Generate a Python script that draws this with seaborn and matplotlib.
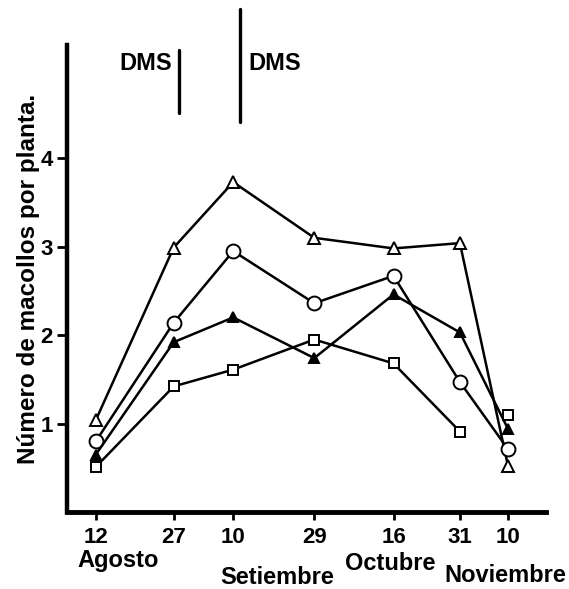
import matplotlib
matplotlib.use("Agg")
import matplotlib.pyplot as plt
import seaborn as sns
import pandas as pd
import numpy as np

# Sampling dates as days since 12 Aug
days = [0, 17, 30, 47.7, 65, 79.5, 90]
day_labels = ["12", "27", "10", "29", "16", "31", "10"]
months = ["Agosto", "Setiembre", "Octubre", "Noviembre"]

tri_open = [1.04, 2.99, 3.73, 3.10, 2.98, 3.04, 0.52]
circle_open = [0.80, 2.14, 2.95, 2.36, 2.67, 1.47, 0.71]
tri_filled = [0.65, 1.92, 2.20, 1.74, 2.46, 2.03, 0.94]
square_open = [0.51, 1.42, 1.61, 1.95, 1.68, 0.91, 1.10]
square_connected = [True, True, True, True, True, True, False]

dms_days = [18.1, 31.5]
dms_spans = [(4.51, 5.22), (4.41, 5.69)]

sns.set_theme(style="white")
plt.rcParams["font.family"] = ["Liberation Sans", "DejaVu Sans"]
plt.rcParams["font.weight"] = "bold"
plt.rcParams["text.color"] = "black"
plt.rcParams["axes.labelcolor"] = "black"
plt.rcParams["xtick.color"] = "black"
plt.rcParams["ytick.color"] = "black"

W, H = 569, 589
fig = plt.figure(figsize=(W / 100, H / 100), dpi=100)
ax = fig.add_axes([67 / W, 1 - 512 / H, (546 - 67) / W, (512 - 45) / H])

lw = 1.8
series = [
    (tri_open, "^", "white", 9),
    (circle_open, "o", "white", 10),
    (tri_filled, "^", "black", 7),
]
for vals, mk, fc, ms in series:
    df = pd.DataFrame({"day": days, "val": vals})
    sns.lineplot(data=df, x="day", y="val", ax=ax, color="black", lw=lw,
                 marker=mk, markersize=ms, markerfacecolor=fc,
                 markeredgecolor="black", markeredgewidth=1.4, zorder=3)

dsq = pd.DataFrame({"day": days, "val": square_open, "conn": square_connected})
sns.lineplot(data=dsq[dsq["conn"]], x="day", y="val", ax=ax, color="black", lw=lw, zorder=3)
ax.plot(dsq["day"], dsq["val"], ls="none", marker="s", markersize=7,
        markerfacecolor="white", markeredgecolor="black", markeredgewidth=1.4, zorder=4)

ax.set_xlim(-6.3, 98.3)
ax.set_ylim(0, 5.28)
ax.set_xticks(days)
ax.set_xticklabels(day_labels, fontsize=16, fontweight="bold", color="black")
ax.set_yticks([1, 2, 3, 4])
ax.set_yticklabels(["1", "2", "3", "4"], fontsize=16, fontweight="bold", color="black")
ax.tick_params(axis="x", direction="out", length=6, width=2, color="black",
               bottom=True, pad=5)
ax.tick_params(axis="y", direction="out", length=7, width=2, color="black",
               left=True, pad=3)
ax.set_xlabel("")
ax.set_ylabel("Número de macollos por planta.", fontsize=17.5, fontweight="bold",
              labelpad=0.5, color="black")

for s in ["top", "right"]:
    ax.spines[s].set_visible(False)
ax.spines["left"].set_linewidth(3.2)
ax.spines["bottom"].set_linewidth(3.5)
ax.spines["left"].set_color("black")
ax.spines["bottom"].set_color("black")

# DMS markers
for d, (y0, y1) in zip(dms_days, dms_spans):
    ax.plot([d, d], [y0, y1], color="black", lw=2.4, clip_on=False)
ax.text(dms_days[0] - 1.5, 5.07, "DMS", fontsize=17, fontweight="bold", ha="right", va="center")
ax.text(dms_days[1] + 1.7, 5.07, "DMS", fontsize=17, fontweight="bold", ha="left", va="center")

# Month labels
month_pos = [(118, 561), (277, 578), (390, 563), (505, 576)]
for m, (px, py) in zip(months, month_pos):
    fig.text(px / W, 1 - py / H, m, fontsize=17, fontweight="bold", ha="center", va="center")

fig.savefig("out.png", dpi=100)
